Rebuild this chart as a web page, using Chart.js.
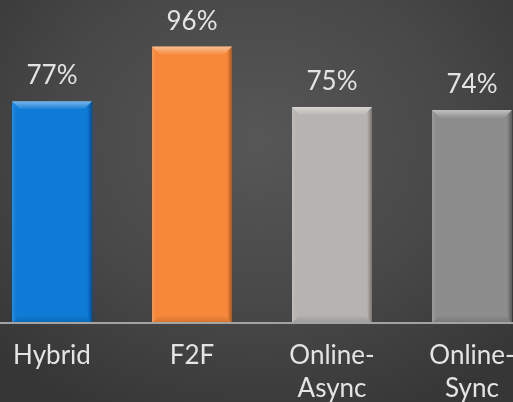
<!DOCTYPE html>
<html>
<head>
<meta charset="utf-8">
<script src="https://cdn.jsdelivr.net/npm/chart.js@4.4.0/dist/chart.umd.min.js"></script>
<style>
    html, body {
        margin: 0;
        padding: 0;
        width: 513px;
        height: 402px;
        overflow: hidden;
        background: radial-gradient(ellipse 70% 75% at 50% 35%, #575757 0%, #484848 55%, #363636 100%);
    }
    #wrap {
        position: absolute;
        left: -18px;
        top: 0;
        width: 560px;
        height: 402px;
    }
</style>
</head>
<body>
<div id="wrap"><canvas id="chart"></canvas></div>
<script>
// Chart data
const categories = ['Hybrid', 'F2F', ['Online-', 'Async'], ['Online-', 'Sync']];
const percentages = [77, 96, 75, 74];
const barColors = ['#0f7bd6', '#f7883a', '#b7b3b0', '#8d8d8d'];

const FONT = 'Lato, "Liberation Sans", sans-serif';

// Bevel look on each bar, drawn from the bar elements' own geometry
const bevelPlugin = {
    id: 'bevel',
    afterDatasetsDraw(chart) {
        const ctx = chart.ctx;
        const meta = chart.getDatasetMeta(0);
        const b = 8;
        meta.data.forEach((bar) => {
            const left = bar.x - bar.width / 2;
            const right = bar.x + bar.width / 2;
            const top = bar.y;
            const bottom = bar.base;
            ctx.save();
            // top face, light fading down
            let g = ctx.createLinearGradient(0, top, 0, top + b);
            g.addColorStop(0, 'rgba(255,255,255,0.45)');
            g.addColorStop(1, 'rgba(255,255,255,0.04)');
            ctx.fillStyle = g;
            ctx.beginPath();
            ctx.moveTo(left, top);
            ctx.lineTo(right, top);
            ctx.lineTo(right - b, top + b);
            ctx.lineTo(left + b, top + b);
            ctx.closePath();
            ctx.fill();
            // right face, darker toward the edge
            g = ctx.createLinearGradient(right - 5, 0, right, 0);
            g.addColorStop(0, 'rgba(0,0,0,0)');
            g.addColorStop(1, 'rgba(0,0,0,0.35)');
            ctx.fillStyle = g;
            ctx.beginPath();
            ctx.moveTo(right, top);
            ctx.lineTo(right, bottom);
            ctx.lineTo(right - 5, bottom - 5);
            ctx.lineTo(right - 5, top + 5);
            ctx.closePath();
            ctx.fill();
            // left face, faint light
            g = ctx.createLinearGradient(left, 0, left + 4, 0);
            g.addColorStop(0, 'rgba(255,255,255,0.12)');
            g.addColorStop(1, 'rgba(255,255,255,0)');
            ctx.fillStyle = g;
            ctx.beginPath();
            ctx.moveTo(left, top);
            ctx.lineTo(left + 4, top + 4);
            ctx.lineTo(left + 4, bottom - 4);
            ctx.lineTo(left, bottom);
            ctx.closePath();
            ctx.fill();
            // bottom face, faint dark
            g = ctx.createLinearGradient(0, bottom - 8, 0, bottom);
            g.addColorStop(0, 'rgba(0,0,0,0)');
            g.addColorStop(1, 'rgba(0,0,0,0.15)');
            ctx.fillStyle = g;
            ctx.beginPath();
            ctx.moveTo(left, bottom);
            ctx.lineTo(left + 8, bottom - 8);
            ctx.lineTo(right - 8, bottom - 8);
            ctx.lineTo(right, bottom);
            ctx.closePath();
            ctx.fill();
            ctx.restore();
        });
    }
};

// Baseline drawn over the bars, then value labels above bars
const overlay = {
    id: 'overlay',
    afterDatasetsDraw(chart) {
        const ctx = chart.ctx;
        const xScale = chart.scales.x;
        ctx.save();
        ctx.strokeStyle = '#a3a3a3';
        ctx.lineWidth = 2;
        ctx.beginPath();
        ctx.moveTo(0, xScale.top);
        ctx.lineTo(chart.width, xScale.top);
        ctx.stroke();

        const meta = chart.getDatasetMeta(0);
        ctx.fillStyle = '#e4e4e4';
        ctx.font = '26px ' + FONT;
        ctx.textAlign = 'center';
        ctx.textBaseline = 'alphabetic';
        meta.data.forEach((bar, i) => {
            ctx.fillText(percentages[i] + '%', bar.x, bar.y - 17);
        });
        ctx.restore();
    }
};

new Chart(document.getElementById('chart'), {
    type: 'bar',
    data: {
        labels: categories,
        datasets: [{
            data: percentages,
            backgroundColor: barColors,
            borderWidth: 0,
            barPercentage: 0.5714,
            categoryPercentage: 1.0
        }]
    },
    options: {
        responsive: true,
        maintainAspectRatio: false,
        animation: false,
        layout: { padding: { top: 35, left: 0, right: 0, bottom: 0 } },
        plugins: {
            legend: { display: false },
            tooltip: { enabled: false }
        },
        scales: {
            y: {
                display: false,
                min: 0,
                max: 100
            },
            x: {
                grid: { display: false, drawTicks: false },
                border: { display: false },
                ticks: {
                    color: '#e4e4e4',
                    font: { family: FONT, size: 26, lineHeight: 1.27 },
                    padding: 16,
                    maxRotation: 0,
                    autoSkip: false
                },
                afterFit(scale) {
                    scale.height = 79;
                }
            }
        }
    },
    plugins: [bevelPlugin, overlay]
});
</script>
</body>
</html>
